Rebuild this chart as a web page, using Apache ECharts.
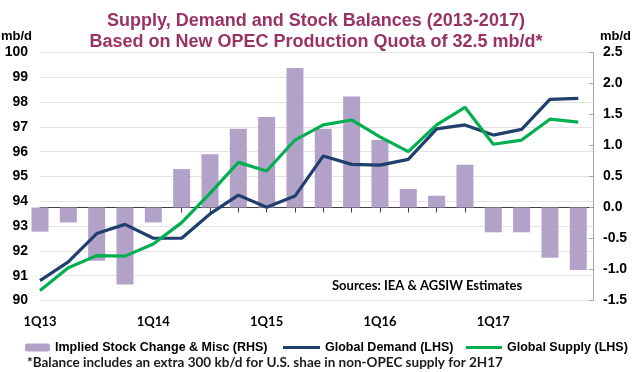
<!DOCTYPE html>
<html><head><meta charset="utf-8">
<script src="https://cdn.jsdelivr.net/npm/echarts@6/dist/echarts.min.js"></script>
<style>html,body{margin:0;padding:0;background:#fff}#c{width:633px;height:372px}</style>
</head><body><div id="c"></div>
<script>
const quarters = ['1Q13','2Q13','3Q13','4Q13','1Q14','2Q14','3Q14','4Q14','1Q15','2Q15','3Q15','4Q15','1Q16','2Q16','3Q16','4Q16','1Q17','2Q17','3Q17','4Q17'];
const stockChange = [-0.39,-0.24,-0.86,-1.24,-0.24,0.62,0.86,1.27,1.46,2.25,1.27,1.79,1.09,0.30,0.19,0.69,-0.40,-0.40,-0.81,-1.01];
const demand = [90.80,91.56,92.70,93.07,92.51,92.51,93.49,94.25,93.76,94.21,95.83,95.49,95.46,95.69,96.92,97.08,96.67,96.90,98.11,98.15];
const supply = [90.40,91.32,91.81,91.79,92.28,93.14,94.32,95.57,95.22,96.47,97.08,97.28,96.60,96.00,97.08,97.79,96.30,96.47,97.31,97.19];
const leftTicks = {min:90, max:100, interval:1};
const rightTicks = {min:-1.5, max:2.5, interval:0.5};

const pair = arr => arr.map((v,i)=>[i,v]);
const chart = echarts.init(document.getElementById('c'));
const F = 'Liberation Sans, Arial, sans-serif';
const legText = {fontFamily:F, fontWeight:'bold', fontSize:12.5, color:'#000'};
chart.setOption({
  animation:false,
  title:{
    text:'Supply, Demand and Stock Balances (2013-2017)\nBased on New OPEC Production Quota of 32.5 mb/d*',
    left:311, top:6, textAlign:'center',
    textStyle:{fontFamily:F, fontWeight:'bold', fontSize:18, color:'#993366', lineHeight:21}
  },
  grid:{left:40, right:40, top:52.5, bottom:71.5},
  xAxis:{
    type:'value', min:0, max:19.52, interval:1,
    axisLine:{show:true, lineStyle:{color:'#404040', width:1}},
    axisTick:{show:true, length:5, lineStyle:{color:'#404040'}},
    splitLine:{show:false},
    axisLabel:{
      margin:15, showMaxLabel:false,
      fontFamily:'Lato, sans-serif', fontWeight:'bold', fontSize:13, color:'#000',
      formatter:v => (Number.isInteger(v) && v%4===0) ? quarters[v] : ''
    }
  },
  yAxis:[
    {type:'value', min:leftTicks.min, max:leftTicks.max, interval:leftTicks.interval,
     axisLine:{show:false}, axisTick:{show:false},
     splitLine:{show:true, lineStyle:{color:'#e3e3e3', width:1}},
     axisLabel:{margin:12, fontFamily:F, fontWeight:'bold', fontSize:14, color:'#000'}},
    {type:'value', position:'right', min:rightTicks.min, max:rightTicks.max, interval:rightTicks.interval,
     axisLine:{show:true, lineStyle:{color:'#a6a6a6'}},
     axisTick:{show:true, inside:true, length:4, lineStyle:{color:'#a6a6a6'}},
     splitLine:{show:false},
     axisLabel:{margin:10, fontFamily:F, fontWeight:'bold', fontSize:14, color:'#000', formatter:v=>v.toFixed(1)}}
  ],
  legend:[
    {data:['Implied Stock Change & Misc (RHS)'], left:20, top:336, itemWidth:25, itemHeight:8, textStyle:legText},
    {data:['Global Demand (LHS)'], left:278, top:336, icon:'rect', itemWidth:37, itemHeight:3, textStyle:legText},
    {data:['Global Supply (LHS)'], left:461, top:336, icon:'rect', itemWidth:36, itemHeight:3, textStyle:legText}
  ],
  graphic:[
    {type:'text', left:1, top:30, style:{text:'mb/d', font:'bold 13px Liberation Sans, Arial', fill:'#000'}},
    {type:'text', left:600, top:30, style:{text:'mb/d', font:'bold 13px Liberation Sans, Arial', fill:'#000'}},
    {type:'text', left:332, top:279, style:{text:'Sources: IEA & AGSIW Estimates', font:'bold 13px Lato, sans-serif', fill:'#000'}},
    {type:'text', left:27, top:356, style:{text:'*Balance includes an extra 300 kb/d for U.S. shae in non-OPEC supply for 2H17', font:'bold 13.5px Lato, sans-serif', fill:'#1a1a1a'}}
  ],
  series:[
    {name:'Implied Stock Change & Misc (RHS)', type:'bar', yAxisIndex:1, barWidth:17, clip:true,
     itemStyle:{color:'#b3a2c7'}, data:pair(stockChange)},
    {name:'Global Demand (LHS)', type:'line', yAxisIndex:0, showSymbol:false, symbol:'none',
     lineStyle:{color:'#1f3f6f', width:3.2}, itemStyle:{color:'#1f3f6f'}, data:pair(demand)},
    {name:'Global Supply (LHS)', type:'line', yAxisIndex:0, showSymbol:false, symbol:'none',
     lineStyle:{color:'#00b050', width:3.2}, itemStyle:{color:'#00b050'}, data:pair(supply)}
  ]
});
</script></body></html>
